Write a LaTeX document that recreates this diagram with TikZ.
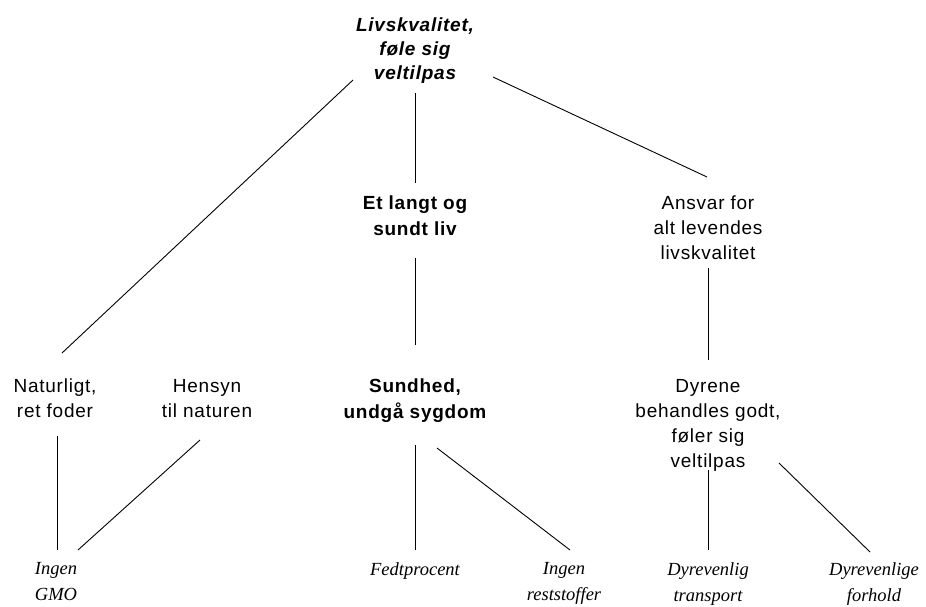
\documentclass[tikz,border=0pt]{standalone}
\usepackage{fontspec}
\setmainfont[LetterSpace=4]{Liberation Sans}
\newfontfamily\leaffont{Liberation Serif}
\usetikzlibrary{calc}

\tikzset{
  txt/.style={anchor=north, inner sep=0pt, align=center, font=\fontsize{19}{25}\selectfont},
  goal/.style={txt, font=\fontsize{19}{24}\selectfont\bfseries\itshape},
  mid/.style={txt, font=\fontsize{19}{26}\selectfont\bfseries},
  leaf/.style={anchor=north, inner sep=0pt, align=center, font=\fontsize{18.5}{26}\selectfont\leaffont\itshape},
  link/.style={line width=0.9pt, black}
}

\begin{document}
\begin{tikzpicture}[x=1pt,y=-1pt]
		\useasboundingbox (0,0) rectangle (926,606);

		% top level
		\node[goal] (goal) at (415,18) {Livskvalitet,\\føle sig\\veltilpas};

		% second level
		\node[mid] (langt)  at (415,196) {Et langt og\\sundt liv};
		\node[txt] (ansvar) at (708,196) {Ansvar for\\alt levendes\\livskvalitet};

		% third level
		\node[txt] (natur)   at (55,379)  {Naturligt,\\ret foder};
		\node[txt] (hensyn)  at (207,379) {Hensyn\\til naturen};
		\node[mid] (sundhed) at (415,379) {Sundhed,\\undgå sygdom};
		\node[txt] (dyrene)  at (708,379) {Dyrene\\behandles godt,\\føler sig\\veltilpas};

		% leaves
		\node[leaf] (gmo)       at (56,562)  {Ingen\\GMO};
		\node[leaf] (fedt)      at (415,562) {Fedtprocent};
		\node[leaf] (rest)      at (564,562) {Ingen\\reststoffer};
		\node[leaf] (transport) at (708,562) {Dyrevenlig\\transport};
		\node[leaf] (forhold)   at (874,562) {Dyrevenlige\\forhold};

		% connections
		\draw[link] ($(goal.north)+(-62,62)$) -- ($(natur.north)+(7,-26)$);
		\draw[link] ($(goal.north)+(0,75)$) -- ($(langt.north)+(0,-13)$);
		\draw[link] ($(goal.north)+(78,59)$) -- ($(ansvar.north)+(-1,-19)$);
		\draw[link] ($(langt.north)+(0,62)$) -- ($(sundhed.north)+(0,-34)$);
		\draw[link] ($(ansvar.north)+(0,72)$) -- ($(dyrene.north)+(0,-19)$);
		\draw[link] ($(natur.north)+(2,57)$) -- ($(gmo.north)+(1,-12)$);
		\draw[link] ($(hensyn.north)+(-7,61)$) -- ($(gmo.north)+(22,-12)$);
		\draw[link] ($(sundhed.north)+(0,66)$) -- ($(fedt.north)+(0,-12)$);
		\draw[link] ($(sundhed.north)+(22,69)$) -- ($(rest.north)+(6,-12)$);
		\draw[link] ($(dyrene.north)+(0,91)$) -- ($(transport.north)+(0,-12)$);
		\draw[link] ($(dyrene.north)+(71,84)$) -- ($(forhold.north)+(-4,-10)$);
\end{tikzpicture}
\end{document}
